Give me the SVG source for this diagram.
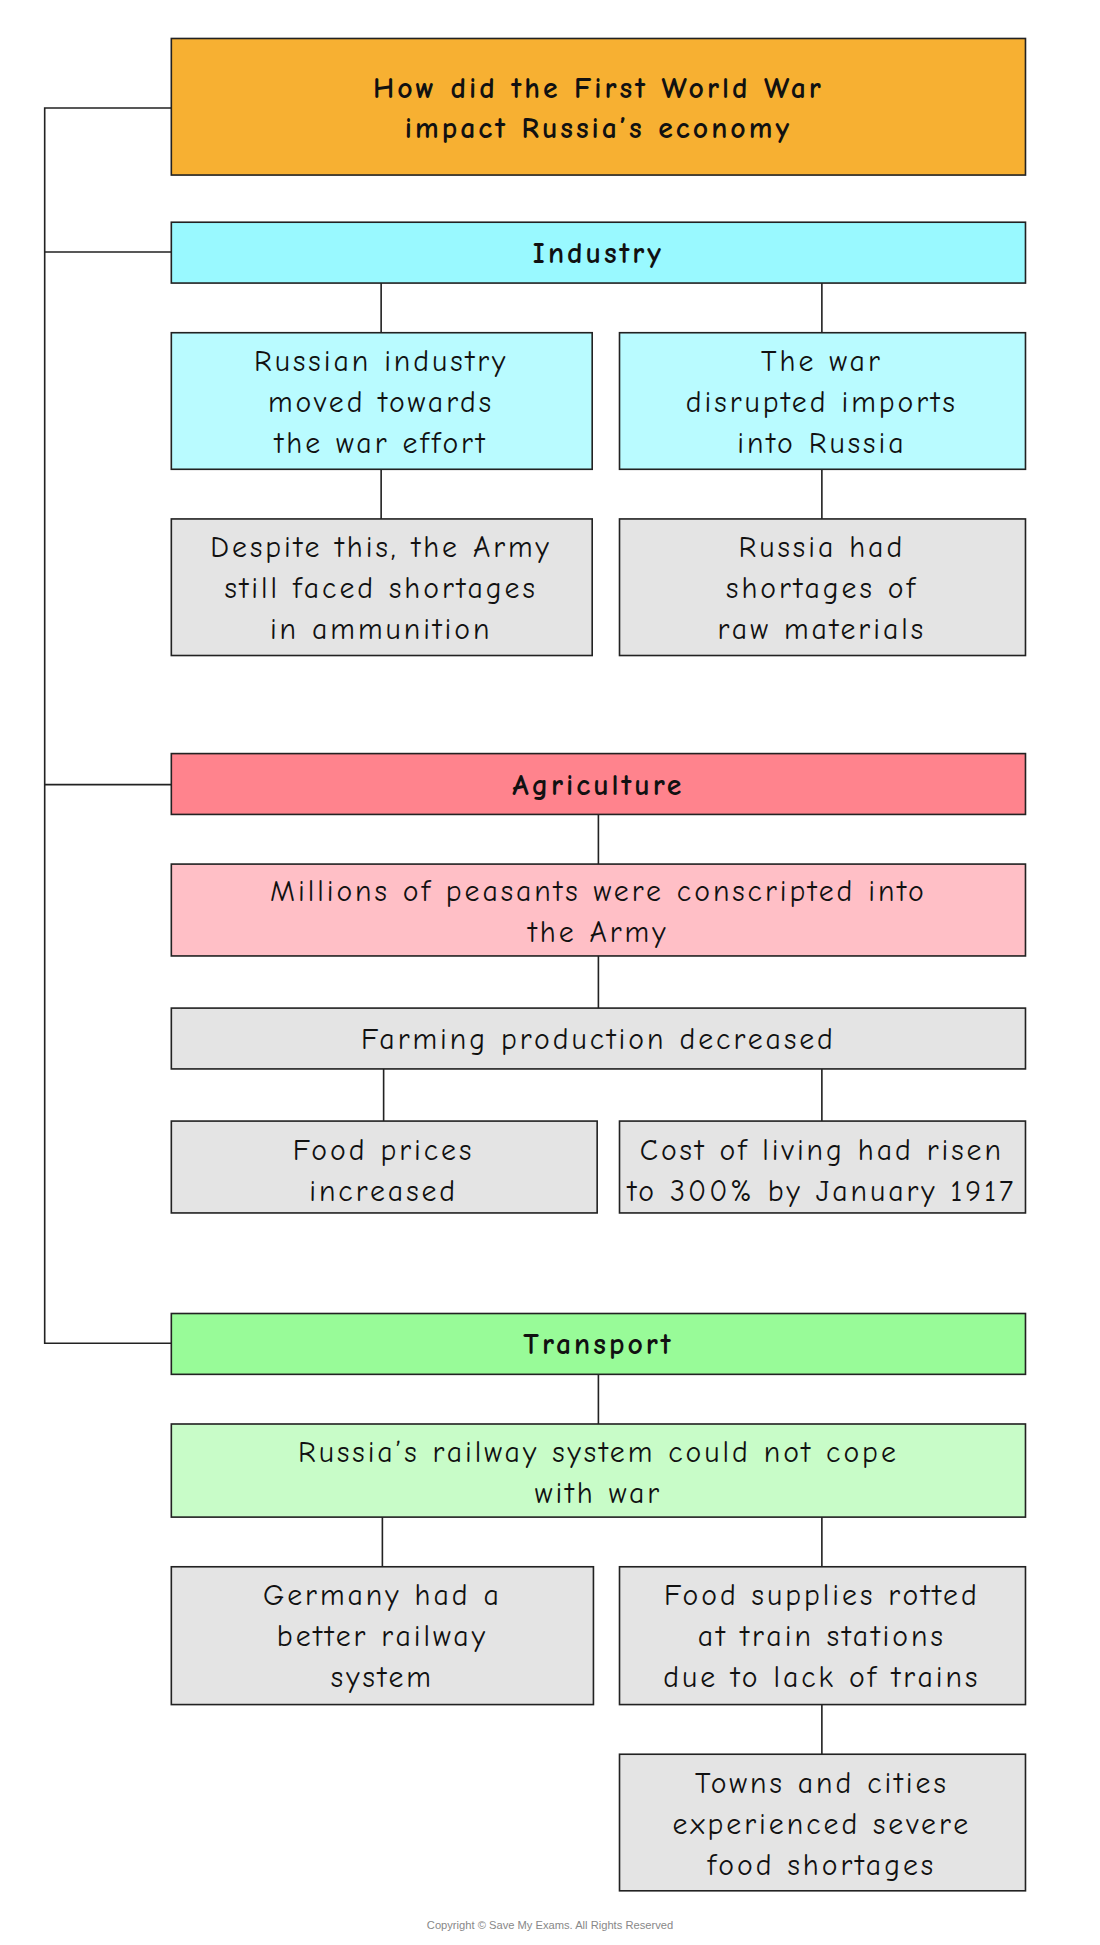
<svg xmlns="http://www.w3.org/2000/svg" width="1100" height="1945" viewBox="0 0 1100 1945">
<style>
rect{stroke:#222;stroke-width:1.3}
rect.bg{stroke:none}
text{font-family:"Comic Neue","DejaVu Sans",sans-serif;font-size:24px;fill:#111;text-anchor:middle;letter-spacing:2.4px}
.b{font-weight:bold}
.g{fill:#e4e4e4}
#connectors path{fill:none;stroke:#222;stroke-width:1.3}
</style>
<rect class="bg" x="0" y="0" width="1100" height="1945" fill="#fff"/>
<g transform="scale(1.2415)">
<g id="connectors">
<path d="M138 87H36V1082H138M36 203H138M36 632H138"/>
<path d="M307 228V268M662 228V268M307 378V418M662 378V418"/>
<path d="M482 656V696M482 770V812M309 861V903M662 861V903"/>
<path d="M482 1107V1147M308 1222V1262M662 1222V1262M662 1373V1413"/>
</g>
<g id="title"><rect x="138" y="31" width="688" height="110" fill="#f7b032"/><text class="b" x="482" y="79">How did the First World War</text><text class="b" x="482" y="111">impact Russia’s economy</text></g>
<g id="industry"><rect x="138" y="179" width="688" height="49" fill="#99f9ff"/><text class="b" x="482" y="212">Industry</text></g>
<g id="ind1"><rect x="138" y="268" width="339" height="110" fill="#b9fbff"/><text x="307" y="299">Russian industry</text><text x="307" y="332">moved towards</text><text x="307" y="365">the war effort</text></g>
<g id="ind2"><rect x="499" y="268" width="327" height="110" fill="#b9fbff"/><text x="662" y="299">The war</text><text x="662" y="332">disrupted imports</text><text x="662" y="365">into Russia</text></g>
<g id="ind3"><rect class="g" x="138" y="418" width="339" height="110"/><text x="307" y="449">Despite this, the Army</text><text x="307" y="482">still faced shortages</text><text x="307" y="515">in ammunition</text></g>
<g id="ind4"><rect class="g" x="499" y="418" width="327" height="110"/><text x="662" y="449">Russia had</text><text x="662" y="482">shortages of</text><text x="662" y="515">raw materials</text></g>
<g id="agri"><rect x="138" y="607" width="688" height="49" fill="#ff838d"/><text class="b" x="482" y="640">Agriculture</text></g>
<g id="agri1"><rect x="138" y="696" width="688" height="74" fill="#ffbfc6"/><text x="482" y="726">Millions of peasants were conscripted into</text><text x="482" y="759">the Army</text></g>
<g id="agri2"><rect class="g" x="138" y="812" width="688" height="49"/><text x="482" y="845">Farming production decreased</text></g>
<g id="agri3"><rect class="g" x="138" y="903" width="343" height="74"/><text x="309" y="934">Food prices</text><text x="309" y="967">increased</text></g>
<g id="agri4"><rect class="g" x="499" y="903" width="327" height="74"/><text x="662" y="934">Cost of living had risen</text><text x="662" y="967">to 300% by January 1917</text></g>
<g id="trans"><rect x="138" y="1058" width="688" height="49" fill="#98fb98"/><text class="b" x="482" y="1091">Transport</text></g>
<g id="trans1"><rect x="138" y="1147" width="688" height="75" fill="#c8fcc8"/><text x="482" y="1178">Russia’s railway system could not cope</text><text x="482" y="1211">with war</text></g>
<g id="trans2"><rect class="g" x="138" y="1262" width="340" height="111"/><text x="308" y="1293">Germany had a</text><text x="308" y="1326">better railway</text><text x="308" y="1359">system</text></g>
<g id="trans3"><rect class="g" x="499" y="1262" width="327" height="111"/><text x="662" y="1293">Food supplies rotted</text><text x="662" y="1326">at train stations</text><text x="662" y="1359">due to lack of trains</text></g>
<g id="trans4"><rect class="g" x="499" y="1413" width="327" height="110"/><text x="662" y="1444">Towns and cities</text><text x="662" y="1477">experienced severe</text><text x="662" y="1510">food shortages</text></g>
<text x="443" y="1554" style="font-size:9px;fill:#888;letter-spacing:0;font-family:'Liberation Sans',sans-serif">Copyright © Save My Exams. All Rights Reserved</text>
</g>
</svg>
